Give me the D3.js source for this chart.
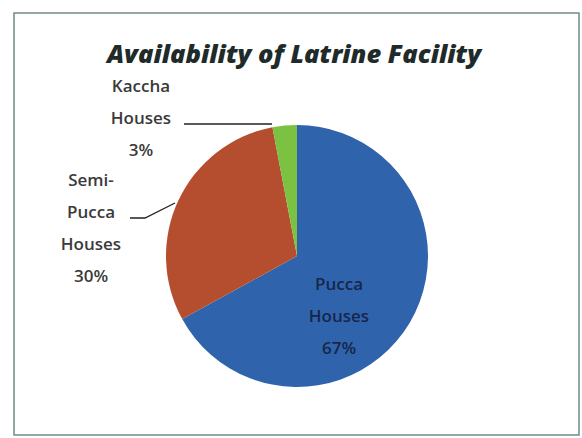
<!DOCTYPE html>
<html><head><meta charset="utf-8">
<script src="https://cdn.jsdelivr.net/npm/d3@7"></script>
<style>body{margin:0;background:#fff}svg{display:block}</style>
</head><body>
<svg id="c" width="582" height="438"></svg>
<script>
const categories = ["Pucca Houses", "Semi-Pucca Houses", "Kaccha Houses"];
const values = [67, 30, 3];
const colors = ["#2f64ad", "#b54e2f", "#7cc242"];

const svg = d3.select("#c");
svg.append("rect").attr("x",14).attr("y",13).attr("width",565).attr("height",422)
  .attr("fill","#fff").attr("stroke","#6f8c84").attr("stroke-width",1.5);

svg.append("text").attr("x",294).attr("y",63).attr("text-anchor","middle")
  .attr("font-family","Open Sans").attr("font-weight","800").attr("font-style","italic")
  .attr("font-size",25.5).attr("fill","#1f2b2a").text("Availability of Latrine Facility");

const cx = 297, cy = 256, r = 131;
const pie = d3.pie().sort(null).value(d=>d)(values);
const arc = d3.arc().innerRadius(0).outerRadius(r);
const g = svg.append("g").attr("transform",`translate(${cx},${cy})`);
g.selectAll("path").data(pie).enter().append("path")
  .attr("d",arc).attr("fill",(d,i)=>colors[i]);

function label(lines, x, y, color){
  const t = svg.append("text").attr("text-anchor","middle")
    .attr("font-family","Open Sans").attr("font-weight","600").attr("font-size",17).attr("fill",color);
  lines.forEach((s,i)=>t.append("tspan").attr("x",x).attr("y",y+i*32).text(s));
}
label(["Pucca","Houses", values[0]+"%"], 339, 290, "#17264a");
label(["Semi-","Pucca","Houses", values[1]+"%"], 91, 186, "#3a3a3a");
label(["Kaccha","Houses", values[2]+"%"], 141, 92, "#3a3a3a");

// leader lines
const lp = d3.line();
svg.append("path").attr("d",lp([[184,124],[272,124]])).attr("stroke","#222").attr("stroke-width",1.3).attr("fill","none");
svg.append("path").attr("d",lp([[130,218],[145,218],[175,203]])).attr("stroke","#222").attr("stroke-width",1.3).attr("fill","none");
</script>
</body></html>
